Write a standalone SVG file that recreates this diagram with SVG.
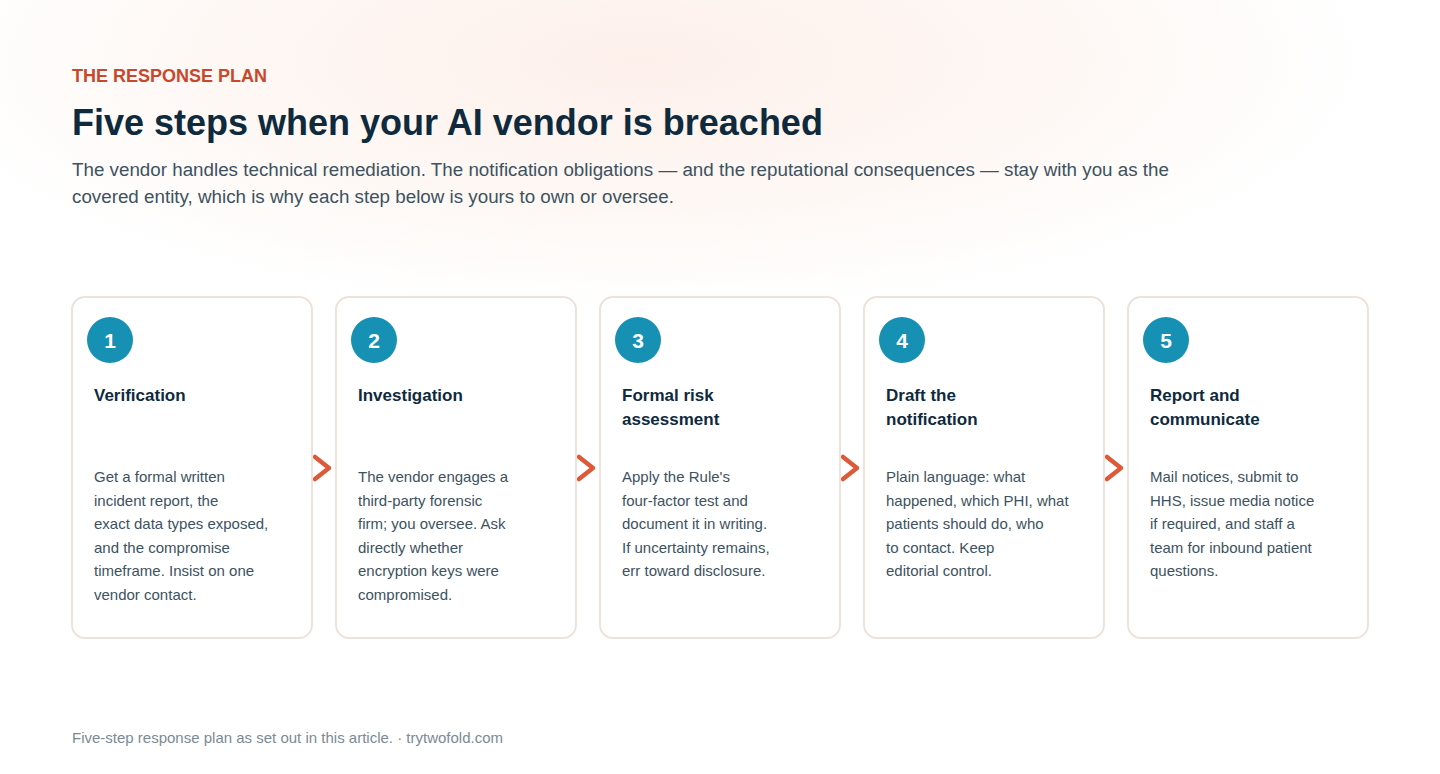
<svg xmlns="http://www.w3.org/2000/svg" width="1440" height="774" viewBox="0 0 1440 774">
<defs>
<radialGradient id="glow" cx="640" cy="60" r="560" gradientUnits="userSpaceOnUse" gradientTransform="translate(640 60) scale(1.3 0.45) translate(-640 -60)">
<stop offset="0" stop-color="#fdf0eb"/>
<stop offset="0.6" stop-color="#fef8f5"/>
<stop offset="1" stop-color="#ffffff"/>
</radialGradient>
<style>
.card{fill:#fff;stroke:#ede3dc;stroke-width:2}
.num{fill:#1690b3}
.numt{font:bold 21px "Liberation Sans",Arial,sans-serif;fill:#fff;text-anchor:middle}
.title{font:bold 17px "Liberation Sans",Arial,sans-serif;fill:#0f2a3d}
.body{font:15px "Liberation Sans",Arial,sans-serif;fill:#3d5260}
.chev{fill:none;stroke:#dc5a3a;stroke-width:4.5;stroke-linecap:round;stroke-linejoin:round}
</style>
</defs>
<rect width="1440" height="774" fill="#fff"/>
<rect width="1440" height="320" fill="url(#glow)"/>
<text x="72" y="82" font-family="Liberation Sans,Arial,sans-serif" font-size="18" font-weight="bold" fill="#c9472b">THE RESPONSE PLAN</text>
<text x="72" y="135" font-family="Liberation Sans,Arial,sans-serif" font-size="36" font-weight="bold" fill="#0f2a3d">Five steps when your AI vendor is breached</text>
<text font-family="Liberation Sans,Arial,sans-serif" font-size="18.8" fill="#3d5260"><tspan x="72" y="176">The vendor handles technical remediation. The notification obligations — and the reputational consequences — stay with you as the</tspan><tspan x="72" y="203">covered entity, which is why each step below is yours to own or oversee.</tspan></text>
<g id="connectors">
<path class="chev" d="M315 457 L329 468 L315 479"/>
<path class="chev" d="M579 457 L593 468 L579 479"/>
<path class="chev" d="M843 457 L857 468 L843 479"/>
<path class="chev" d="M1107 457 L1121 468 L1107 479"/>
</g>
<g id="step1"><rect class="card" x="72" y="297" width="240" height="341" rx="13"/><circle class="num" cx="110" cy="340" r="23"/><text class="numt" x="110" y="347.5">1</text><text class="title" x="94" y="401">Verification</text><text class="body"><tspan x="94" y="482">Get a formal written</tspan><tspan x="94" y="505.5">incident report, the</tspan><tspan x="94" y="529">exact data types exposed,</tspan><tspan x="94" y="552.5">and the compromise</tspan><tspan x="94" y="576">timeframe. Insist on one</tspan><tspan x="94" y="599.5">vendor contact.</tspan></text></g>
<g id="step2"><rect class="card" x="336" y="297" width="240" height="341" rx="13"/><circle class="num" cx="374" cy="340" r="23"/><text class="numt" x="374" y="347.5">2</text><text class="title" x="358" y="401">Investigation</text><text class="body"><tspan x="358" y="482">The vendor engages a</tspan><tspan x="358" y="505.5">third-party forensic</tspan><tspan x="358" y="529">firm; you oversee. Ask</tspan><tspan x="358" y="552.5">directly whether</tspan><tspan x="358" y="576">encryption keys were</tspan><tspan x="358" y="599.5">compromised.</tspan></text></g>
<g id="step3"><rect class="card" x="600" y="297" width="240" height="341" rx="13"/><circle class="num" cx="638" cy="340" r="23"/><text class="numt" x="638" y="347.5">3</text><text class="title"><tspan x="622" y="401">Formal risk</tspan><tspan x="622" y="425">assessment</tspan></text><text class="body"><tspan x="622" y="482">Apply the Rule's</tspan><tspan x="622" y="505.5">four-factor test and</tspan><tspan x="622" y="529">document it in writing.</tspan><tspan x="622" y="552.5">If uncertainty remains,</tspan><tspan x="622" y="576">err toward disclosure.</tspan></text></g>
<g id="step4"><rect class="card" x="864" y="297" width="240" height="341" rx="13"/><circle class="num" cx="902" cy="340" r="23"/><text class="numt" x="902" y="347.5">4</text><text class="title"><tspan x="886" y="401">Draft the</tspan><tspan x="886" y="425">notification</tspan></text><text class="body"><tspan x="886" y="482">Plain language: what</tspan><tspan x="886" y="505.5">happened, which PHI, what</tspan><tspan x="886" y="529">patients should do, who</tspan><tspan x="886" y="552.5">to contact. Keep</tspan><tspan x="886" y="576">editorial control.</tspan></text></g>
<g id="step5"><rect class="card" x="1128" y="297" width="240" height="341" rx="13"/><circle class="num" cx="1166" cy="340" r="23"/><text class="numt" x="1166" y="347.5">5</text><text class="title"><tspan x="1150" y="401">Report and</tspan><tspan x="1150" y="425">communicate</tspan></text><text class="body"><tspan x="1150" y="482">Mail notices, submit to</tspan><tspan x="1150" y="505.5">HHS, issue media notice</tspan><tspan x="1150" y="529">if required, and staff a</tspan><tspan x="1150" y="552.5">team for inbound patient</tspan><tspan x="1150" y="576">questions.</tspan></text></g>
<text x="72" y="743" font-family="Liberation Sans,Arial,sans-serif" font-size="15" fill="#7d8a93">Five-step response plan as set out in this article. · trytwofold.com</text>
</svg>
